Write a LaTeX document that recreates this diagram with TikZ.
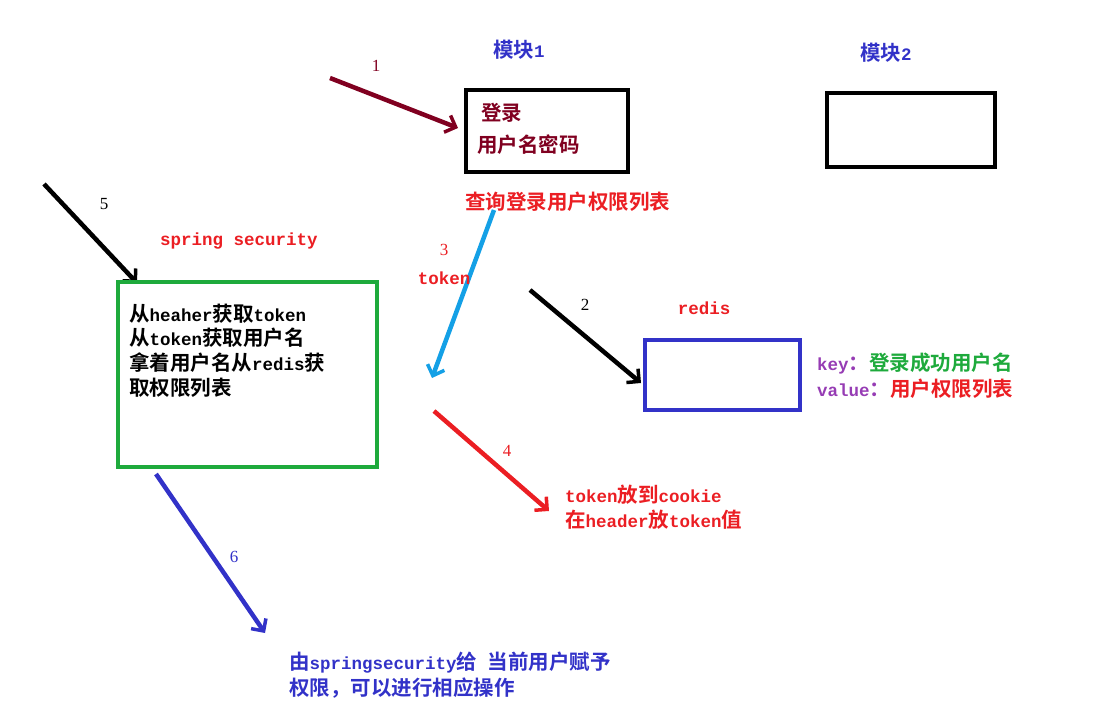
\documentclass[tikz,border=0pt]{standalone}
\usepackage{fontspec}
\setmainfont{Liberation Mono}
\newfontfamily\cjk{Noto Sans CJK SC}[BoldFont={* Bold}]
\newfontfamily\numf{Liberation Serif}
\newcommand{\zh}[1]{{\cjk\fontsize{20.5}{24}\selectfont #1}}
\usetikzlibrary{arrows.meta}
\definecolor{dred}{RGB}{128,0,32}
\definecolor{tblue}{RGB}{50,50,200}
\definecolor{cyanb}{RGB}{20,160,230}
\definecolor{gbox}{RGB}{30,170,60}
\definecolor{rred}{RGB}{235,30,35}
\definecolor{purp}{RGB}{150,60,180}
\tikzset{
  lbl/.style={font=\fontsize{17.5}{22}\selectfont\bfseries, inner sep=0pt},
  lbls/.style={font=\fontsize{17.5}{22}\selectfont\bfseries, inner sep=0pt, anchor=west},
  num/.style={font=\numf\fontsize{17}{20}\selectfont, inner sep=0pt},
  arr/.style={line width=4.5pt, -{Straight Barb[length=9pt,width=18pt,line width=3.5pt]}},
  boxx/.style={line width=4pt, draw}
}
\begin{document}
\begin{tikzpicture}[x=1pt,y=-1pt]
\useasboundingbox (0,0) rectangle (1095,725);
\node[lbls,text=tblue] (m1) at (493,50) {\zh{模块}1};
\node[lbls,text=tblue] (m2) at (860,53) {\zh{模块}2};
\node[boxx, minimum width=162pt, minimum height=82pt] (b1) at (547,131) {};
\node[lbls,text=dred] (t1a) at (481,113) {\zh{登录}};
\node[lbls,text=dred] (t1b) at (477,145) {\zh{用户名密码}};
\node[boxx, minimum width=168pt, minimum height=74pt] (b2) at (911,130) {};
\node[lbls,text=rred] (q) at (465,202) {\zh{查询登录用户权限列表}};
\coordinate (a1s) at (330,78);
\coordinate (a1e) at (458,128);
\draw[arr,dred] (a1s) -- (a1e);
\node[num,text=dred] (n1) at (376,66) {1};
\coordinate (a3s) at (494,210);
\coordinate (a3e) at (432,378);
\draw[arr,cyanb] (a3s) -- (a3e);
\node[num,text=rred] (n3) at (444,250) {3};
\node[lbl,text=rred] (tok) at (444,278) {token};
\coordinate (a5s) at (44,184);
\coordinate (a5e) at (137,283);
\draw[arr,black] (a5s) -- (a5e);
\node[num] (n5) at (104,204) {5};
\node[lbls,text=rred] (ss) at (160,241) {spring security};
\node[line width=4pt, draw=gbox, minimum width=259pt, minimum height=185pt] (gb) at (247.5,374.5) {};
\node[lbls] (g1) at (129,314) {\zh{从}heaher\zh{获取}token};
\node[lbls] (g2) at (129,338) {\zh{从}token\zh{获取用户名}};
\node[lbls] (g3) at (129,363) {\zh{拿着用户名从}redis\zh{获}};
\node[lbls] (g4) at (129,388) {\zh{取权限列表}};
\coordinate (a2s) at (530,290);
\coordinate (a2e) at (641,383);
\draw[arr,black] (a2s) -- (a2e);
\node[num] (n2) at (585,305) {2};
\node[lbl,text=rred] (rd) at (704,308) {redis};
\node[line width=4pt, draw=tblue, minimum width=155pt, minimum height=70pt] (rb) at (722.5,375) {};
\node[lbls] (kv1) at (817,364) {\textcolor{purp}{key\zh{：}}\textcolor{gbox}{\zh{登录成功用户名}}};
\node[lbls] (kv2) at (817,389) {\textcolor{purp}{value\zh{：}}\textcolor{rred}{\zh{用户权限列表}}};
\coordinate (a4s) at (434,411);
\coordinate (a4e) at (549,511);
\draw[arr,rred] (a4s) -- (a4e);
\node[num,text=rred] (n4) at (507,451) {4};
\node[lbls,text=rred] (c1) at (565,495) {token\zh{放到}cookie};
\node[lbls,text=rred] (c2) at (565,520) {\zh{在}header\zh{放}token\zh{值}};
\coordinate (a6s) at (156,474);
\coordinate (a6e) at (265,633);
\draw[arr,tblue] (a6s) -- (a6e);
\node[num,text=tblue] (n6) at (234,557) {6};
\node[lbls,text=tblue] (f1) at (289,663) {\zh{由}springsecurity\zh{给} \zh{当前用户赋予}};
\node[lbls,text=tblue] (f2) at (289,688) {\zh{权限，可以进行相应操作}};
\end{tikzpicture}
\end{document}
